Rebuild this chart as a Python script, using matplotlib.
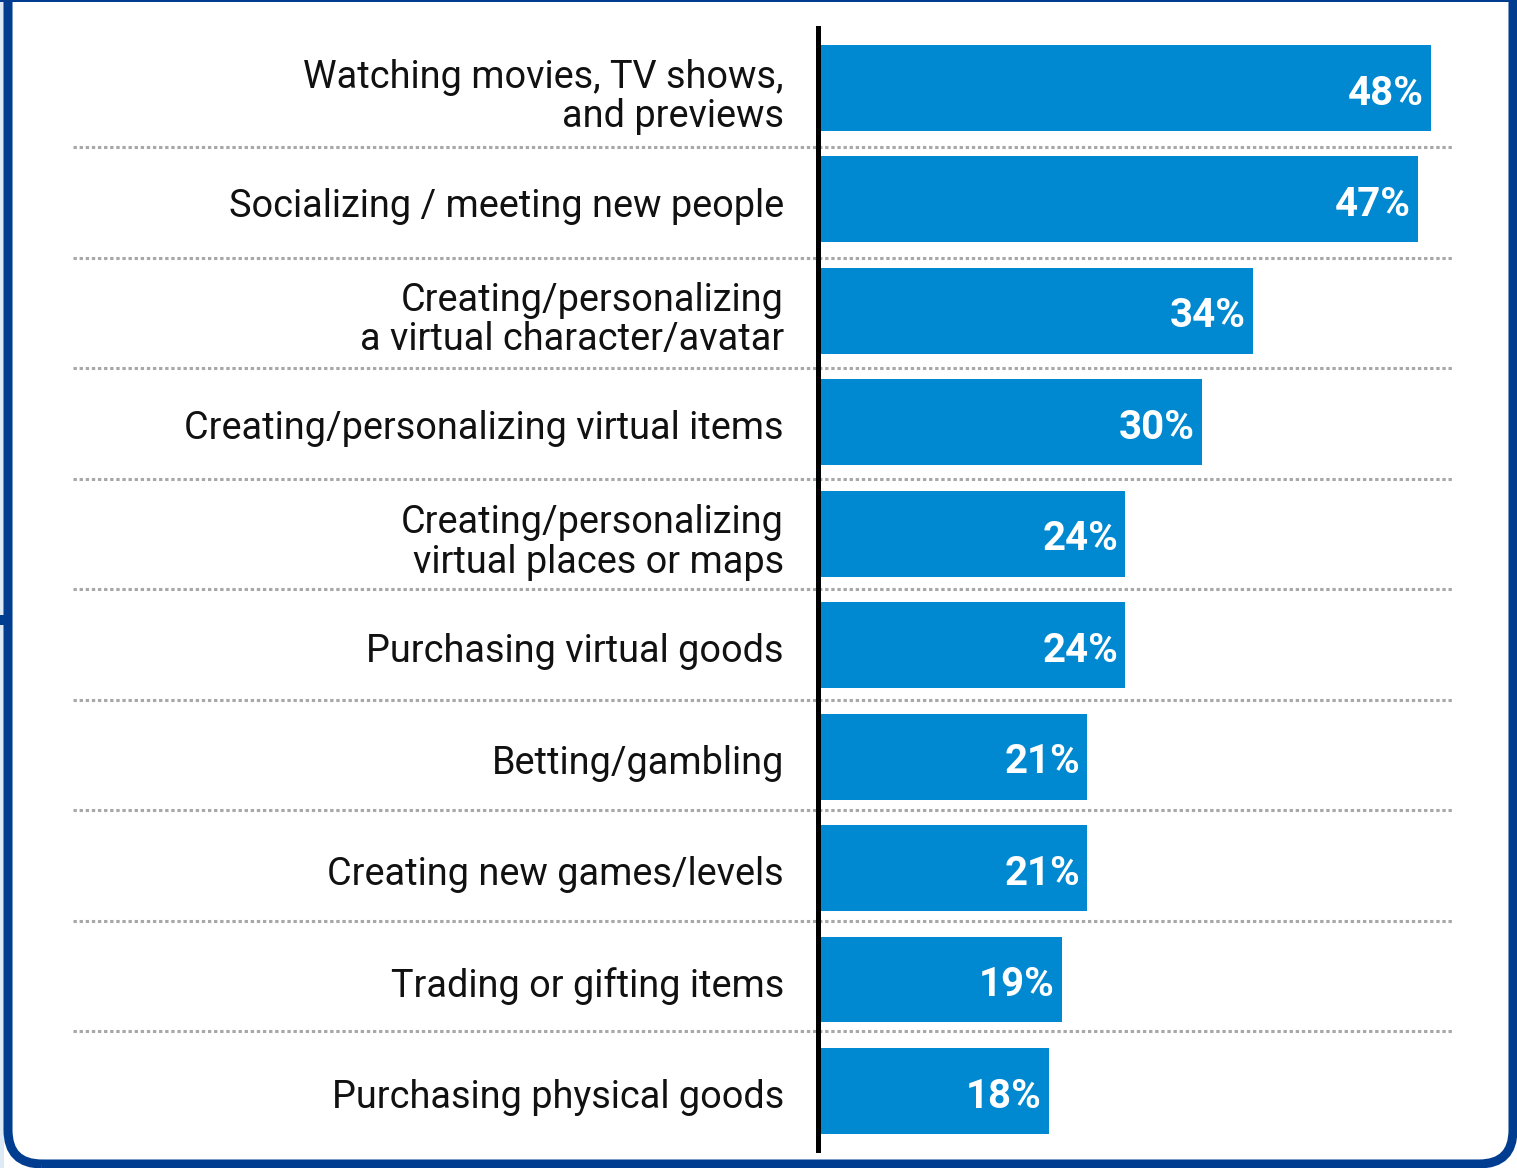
import numpy as np
import matplotlib.pyplot as plt
from matplotlib.patches import FancyBboxPatch, Rectangle
from matplotlib.transforms import IdentityTransform

plt.rcParams['font.family'] = ['Roboto', 'DejaVu Sans']

categories = ['Watching movies, TV shows,\nand previews',
              'Socializing / meeting new people',
              'Creating/personalizing\na virtual character/avatar',
              'Creating/personalizing virtual items',
              'Creating/personalizing\nvirtual places or maps',
              'Purchasing virtual goods',
              'Betting/gambling',
              'Creating new games/levels',
              'Trading or gifting items',
              'Purchasing physical goods']
values = [48, 47, 34, 30, 24, 24, 21, 21, 19, 18]

W, H = 1517, 1168
fig = plt.figure(figsize=(W / 100, H / 100), dpi=100)
fig.patch.set_facecolor('white')

# axes: left edge on the black line, right edge at end of dotted rules
x_left, x_right = 818, 1453
y_top, y_bot = 28, 1150
ax = fig.add_axes([x_left / W, 1 - y_bot / H, (x_right - x_left) / W, (y_bot - y_top) / H])
px_per_unit = (1431 - 820) / 48
ax.set_xlim(-(820 - x_left) / px_per_unit, (x_right - 820) / px_per_unit)
ax.set_ylim(9.53, -0.538)

y = np.arange(len(values))
ax.barh(y, values, height=0.77, color='#0089D1', zorder=2)

for yi, v in zip(y, values):
    ax.text(v - 0.55, yi + 0.05, f'{v}%', ha='right', va='center', color='white',
            fontsize=29, fontweight='bold', zorder=3)

for yi, lab in zip(y, categories):
    dy = 0.08 if '\n' in lab else 0.06
    ax.text(-36 / px_per_unit, yi + dy, lab, ha='right', va='center', fontsize=27.3,
            color='#111111', linespacing=1.08)

# dotted separators
xmin_frac = (73 - x_left) / (x_right - x_left)
for k in range(len(values) - 1):
    ax.axhline(0.53 + k * 0.9917, xmin=xmin_frac, xmax=1, color='#a8a8a8', lw=2.2,
               linestyle=(0, (1.1, 0.9)), clip_on=False, zorder=1)

for s in ['top', 'right', 'bottom']:
    ax.spines[s].set_visible(False)
ax.spines['left'].set_linewidth(3.6)
ax.spines['left'].set_color('black')
ax.spines['left'].set_zorder(4)
ax.set_xticks([])
ax.set_yticks([])
ax.patch.set_visible(False)

# frame around the panel
fig.patches.append(Rectangle((0, 0), 4, H, transform=IdentityTransform(),
                             facecolor='#dde9f5', edgecolor='none', zorder=0))
fig.patches.append(FancyBboxPatch((8, 4), W - 12, H + 60,
                                  boxstyle='round,pad=0,rounding_size=34',
                                  transform=IdentityTransform(), facecolor='none',
                                  edgecolor='#003C8F', lw=6.5, zorder=5))
fig.patches.append(Rectangle((0, H - 2), W, 2, transform=IdentityTransform(),
                             facecolor='#003C8F', edgecolor='none', zorder=5))
fig.patches.append(Rectangle((0, H - 625), 8, 10, transform=IdentityTransform(),
                             facecolor='#003C8F', edgecolor='none', zorder=5))

fig.savefig('out.png', dpi=100)
